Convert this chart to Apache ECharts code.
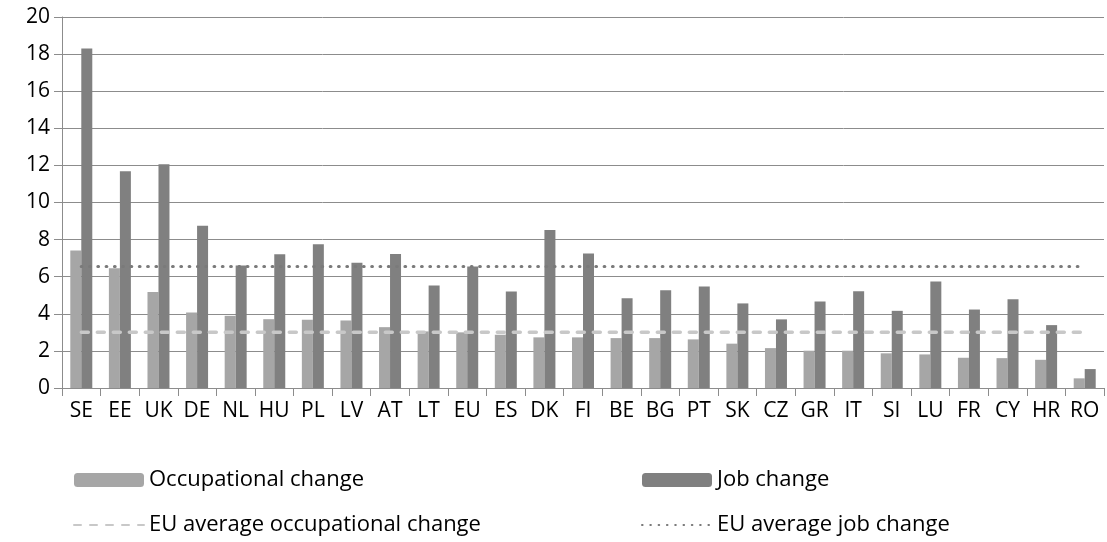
<!DOCTYPE html>
<html>
<head>
<meta charset="utf-8">
<script src="https://cdn.jsdelivr.net/npm/echarts@6/dist/echarts.min.js"></script>
<style>
html,body{margin:0;padding:0;background:#fff;}
#c{width:1107px;height:542px;}
</style>
</head>
<body>
<div id="c"></div>
<script>
const categories = ["SE","EE","UK","DE","NL","HU","PL","LV","AT","LT","EU","ES","DK","FI","BE","BG","PT","SK","CZ","GR","IT","SI","LU","FR","CY","HR","RO"];
const occupationalChange = [7.41,6.46,5.18,4.07,3.89,3.71,3.68,3.64,3.28,3.05,3.0,2.87,2.73,2.73,2.69,2.69,2.62,2.39,2.15,2.01,2.01,1.87,1.81,1.63,1.61,1.52,0.52];
const jobChange = [18.3,11.68,12.06,8.75,6.6,7.21,7.75,6.75,7.23,5.53,6.55,5.2,8.52,7.25,4.84,5.27,5.47,4.56,3.7,4.66,5.22,4.16,5.74,4.23,4.79,3.39,1.02];
const euAvgOccupational = 3.0;
const euAvgJob = 6.55;
const yTicks = {min:0, max:20, interval:2};

const font = "'Open Sans', 'Noto Sans', sans-serif";
const chart = echarts.init(document.getElementById('c'), null, {renderer:'canvas'});
const legendText = {fontSize:22, color:'#000', fontFamily:font};
chart.setOption({
  animation:false,
  backgroundColor:'#fff',
  textStyle:{fontFamily:font},
  grid:{left:62, right:3, top:17, bottom:154, containLabel:false},
  legend:[
    {orient:'vertical', left:73, top:469, padding:0, itemWidth:70, itemHeight:14, itemGap:23,
     textStyle:legendText,
     data:['Occupational change',{name:'EU average occupational change', itemStyle:{opacity:0}}]},
    {orient:'vertical', left:641, top:469, padding:0, itemWidth:70, itemHeight:14, itemGap:23,
     textStyle:legendText,
     data:['Job change',{name:'EU average job change', itemStyle:{opacity:0}}]}
  ],
  xAxis:{type:'category', data:categories, boundaryGap:true,
    axisLine:{lineStyle:{color:'#8c8c8c', width:1}},
    axisTick:{show:true, length:8, alignWithLabel:false, lineStyle:{color:'#8c8c8c'}},
    axisLabel:{fontSize:21, color:'#000', margin:13, interval:0, fontFamily:font}},
  yAxis:{type:'value', min:yTicks.min, max:yTicks.max, interval:yTicks.interval,
    axisLine:{show:true, lineStyle:{color:'#8c8c8c', width:1}},
    axisTick:{show:true, length:8, lineStyle:{color:'#8c8c8c'}},
    splitLine:{lineStyle:{color:'#8c8c8c', width:1}},
    axisLabel:{fontSize:21, color:'#000', margin:12, fontFamily:font}},
  series:[
    {name:'Occupational change', type:'bar', data:occupationalChange, barGap:'0%', barCategoryGap:'43%',
     itemStyle:{color:'#a6a6a6'}, z:2},
    {name:'Job change', type:'bar', data:jobChange, barGap:'0%', barCategoryGap:'43%',
     itemStyle:{color:'#808080'}, z:2},
    {name:'EU average occupational change', type:'line', data:categories.map(()=>euAvgOccupational),
     symbol:'none', lineStyle:{color:'#c8c8c8', width:3.5, type:[7,9], cap:'round'}, itemStyle:{color:'#c8c8c8'}, z:5},
    {name:'EU average job change', type:'line', data:categories.map(()=>euAvgJob),
     symbol:'none', lineStyle:{color:'#7a7a7a', width:3.2, type:[0.6,7.7], cap:'round'}, itemStyle:{color:'#7a7a7a'}, z:5}
  ]
});
</script>
</body>
</html>
